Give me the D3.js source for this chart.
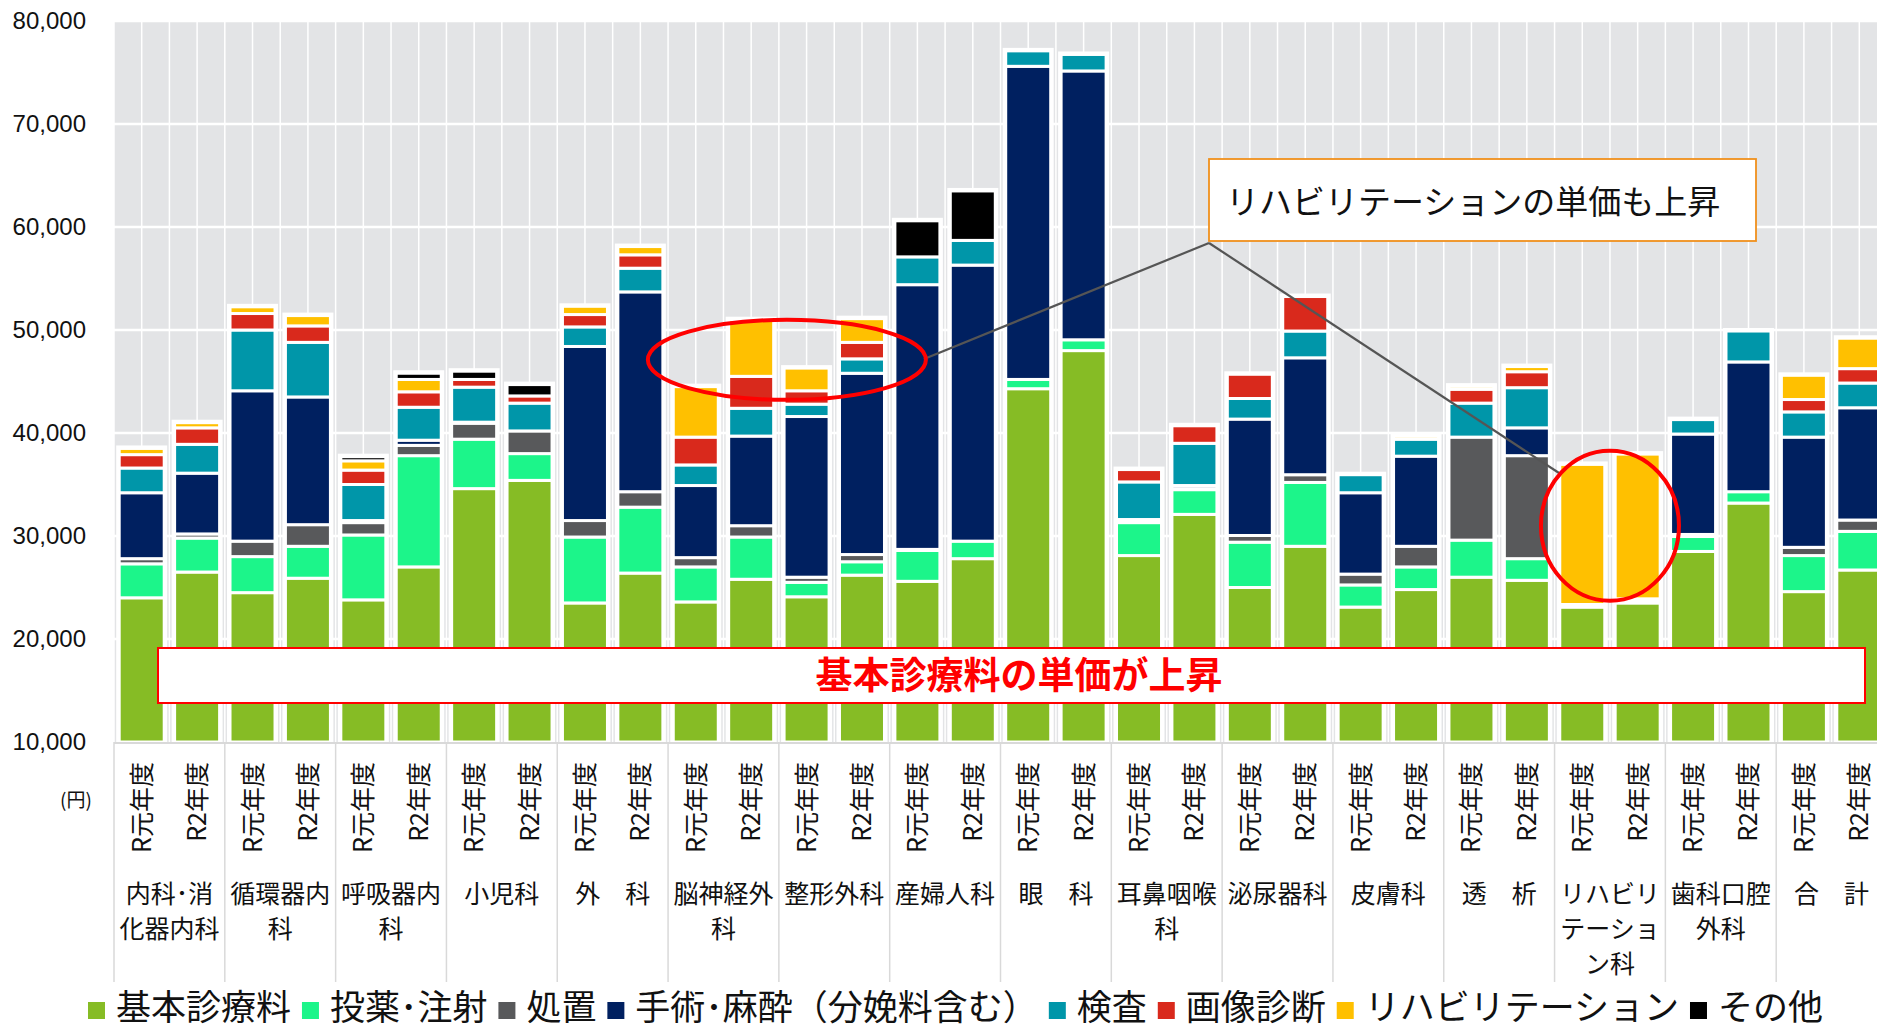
<!DOCTYPE html>
<html>
<head>
<meta charset="utf-8">
<script src="https://cdn.jsdelivr.net/npm/d3@7"></script>
<style>
  html, body { margin: 0; padding: 0; background: #fff; }
  svg { display: block; }
</style>
</head>
<body>
<script>
// ---- data (円, 1件あたり) ----
const groups = ['内科･消化器内科', '循環器内科', '呼吸器内科', '小児科', '外科', '脳神経外科', '整形外科', '産婦人科',
                '眼科', '耳鼻咽喉科', '泌尿器科', '皮膚科', '透析', 'リハビリテーション科', '歯科口腔外科', '合計'];
const groupLabels = [['内科･消', '化器内科'], ['循環器内', '科'], ['呼吸器内', '科'], ['小児科'], ['外　科'],
                     ['脳神経外', '科'], ['整形外科'], ['産婦人科'], ['眼　科'], ['耳鼻咽喉', '科'], ['泌尿器科'],
                     ['皮膚科'], ['透　析'], ['リハビリ', 'テーショ', 'ン科'], ['歯科口腔', '外科'], ['合　計']];
const years = ['R元年度', 'R2年度'];
const series = ['基本診療料', '投薬･注射', '処置', '手術･麻酔（分娩料含む）', '検査', '画像診断', 'リハビリテーション', 'その他'];
const colors = ['#86bc25', '#1cf58a', '#58595b', '#002060', '#0096a9', '#d9291c', '#ffc000', '#000000'];

// one value per bar: R元, R2 for each group in order
const kihon   = [24000, 26500, 24500, 25900, 23800, 27000, 34600, 35400, 23500, 26400, 23600, 25800, 24100, 26200, 25600, 27800,
                 44300, 48000, 28100, 32100, 25000, 29000, 23100, 24800, 26000, 25700, 23100, 23500, 28500, 33200, 24600, 26700];
const touyaku = [3300, 3300, 3500, 3100, 6300, 10800, 4800, 2600, 6400, 6400, 3400, 4100, 1400, 1300, 3000, 1700,
                 900, 1050, 3200, 2400, 4400, 6200, 2150, 2200, 3600, 2100, 150, 200, 1450, 1100, 3500, 3750];
const shochi  = [500, 400, 1500, 2100, 1200, 1000, 1550, 2200, 1600, 1500, 900, 1100, 500, 700, 100, 0,
                 0, 0, 100, 100, 650, 750, 1050, 2000, 10000, 10000, 100, 200, 200, 0, 800, 1100];
const shujutsu= [6400, 5900, 14600, 12400, 200, 500, 100, 0, 16900, 19400, 7000, 8700, 15600, 17600, 25700, 26800,
                 30400, 26100, 200, 300, 11300, 11350, 7900, 8750, 0, 2700, 0, 0, 9750, 12600, 10700, 10900];
const kensa   = [2400, 2800, 5900, 5300, 3500, 3200, 3400, 2700, 1900, 2300, 2000, 2700, 1200, 1400, 2700, 2400,
                 1500, 1600, 3650, 4100, 2000, 2600, 1750, 1650, 3300, 3900, 0, 0, 1400, 3000, 2450, 2400];
const gazou   = [1300, 1600, 1600, 1600, 1400, 1500, 750, 700, 1200, 1300, 2700, 3100, 1300, 1600, 0, 0,
                 0, 0, 1200, 1700, 2350, 3350, 0, 0, 1350, 1550, 0, 0, 0, 0, 1200, 1400];
const riha    = [600, 500, 650, 1000, 900, 1200, 0, 0, 800, 800, 4900, 5500, 2200, 2300, 0, 0,
                 0, 0, 0, 0, 0, 0, 0, 300, 300, 500, 13600, 14050, 0, 0, 2350, 2950];
const sonota  = [0, 0, 0, 0, 400, 600, 800, 1100, 0, 0, 0, 0, 0, 0, 3500, 4800,
                 0, 0, 0, 0, 0, 0, 0, 0, 0, 0, 0, 0, 0, 0, 0, 0];
const seriesValues = [kihon, touyaku, shochi, shujutsu, kensa, gazou, riha, sonota];
const yTicks = [10000, 20000, 30000, 40000, 50000, 60000, 70000, 80000];

// ---- layout ----
const W = 1877, H = 1030;
const plot = {left: 114, right: 1887, top: 21, bottom: 742};
const barW = 45;
const jp = '"Noto Sans CJK JP", "Noto Sans", sans-serif';

const rows = kihon.map((v, i) => {
  const r = {group: groups[Math.floor(i / 2)], year: years[i % 2]};
  series.forEach((s, k) => r[s] = seriesValues[k][i]);
  r.total = d3.sum(series, s => r[s]);
  return r;
});
const stacked = d3.stack().keys(series)(rows);

const x0 = d3.scaleBand().domain(groups).range([plot.left, plot.right]);
const x1 = d3.scaleBand().domain(years).range([0, x0.bandwidth()]);
const y = d3.scaleLinear().domain([10000, 80000]).range([plot.bottom, plot.top]);
const barX = d => x0(d.group) + x1(d.year) + (x1.bandwidth() - barW) / 2;
const color = d3.scaleOrdinal().domain(series).range(colors);

const svg = d3.select('body').append('svg')
  .attr('width', W).attr('height', H)
  .style('font-family', jp);

svg.append('rect')
  .attr('x', plot.left).attr('y', plot.top)
  .attr('width', plot.right - plot.left).attr('height', plot.bottom - plot.top)
  .attr('fill', '#e3e4e6');

// vertical grid, four per department
const vLines = [];
groups.forEach(g => { for (let k = 0; k < 4; k++) vLines.push(x0(g) + k * x0.bandwidth() / 4); });
svg.append('g').selectAll('line').data(vLines).join('line')
  .attr('x1', d => d).attr('x2', d => d)
  .attr('y1', plot.top).attr('y2', plot.bottom)
  .attr('stroke', '#fff').attr('stroke-width', 1.5);

svg.append('g').selectAll('line').data(yTicks.slice(1)).join('line')
  .attr('x1', plot.left).attr('x2', plot.right)
  .attr('y1', d => y(d)).attr('y2', d => y(d))
  .attr('stroke', '#fff').attr('stroke-width', 2.5);

// white backing behind every bar
svg.append('g').selectAll('rect').data(rows).join('rect')
  .attr('x', d => barX(d) - 3)
  .attr('y', d => y(d.total) - 3)
  .attr('width', barW + 6)
  .attr('height', d => y(10000) - y(d.total) + 3)
  .attr('fill', '#fff');

svg.append('g').selectAll('g').data(stacked).join('g')
  .attr('fill', d => color(d.key))
  .selectAll('rect')
  .data(d => d.filter(p => p[1] - p[0] > 0))
  .join('rect')
  .attr('x', d => barX(d.data))
  .attr('y', d => y(d[1]))
  .attr('width', barW)
  .attr('height', d => y(Math.max(d[0], 10000)) - y(d[1]))
  .attr('stroke', '#fff')
  .attr('stroke-width', 3);

// y axis
const yAxis = svg.append('g')
  .attr('transform', `translate(${plot.left},0)`)
  .call(d3.axisLeft(y).tickValues(yTicks).tickFormat(d3.format(',')).tickSize(0).tickPadding(28));
yAxis.select('.domain').remove();
yAxis.selectAll('text')
  .attr('font-family', '"Liberation Sans", Arial, sans-serif')
  .attr('font-size', 24).attr('fill', '#111');

svg.append('text')
  .attr('x', 76).attr('y', 807)
  .attr('text-anchor', 'middle')
  .attr('font-size', 19).attr('fill', '#111')
  .text('(円)');

// category area
svg.append('line')
  .attr('x1', plot.left).attr('x2', plot.right)
  .attr('y1', plot.bottom + 1).attr('y2', plot.bottom + 1)
  .attr('stroke', '#d9d9d9').attr('stroke-width', 2);
svg.append('g').selectAll('line').data(groups.map(g => x0(g)).concat([plot.right])).join('line')
  .attr('x1', d => d).attr('x2', d => d)
  .attr('y1', plot.bottom).attr('y2', 982)
  .attr('stroke', '#d9d9d9').attr('stroke-width', 1.5);

svg.append('g').selectAll('text').data(rows).join('text')
  .attr('transform', d => `translate(${barX(d) + barW / 2},762) rotate(-90)`)
  .attr('text-anchor', 'end')
  .attr('dy', '0.36em')
  .attr('font-size', 25).attr('fill', '#111')
  .text(d => d.year);

const gl = svg.append('g').selectAll('text').data(groups).join('text')
  .attr('text-anchor', 'middle')
  .attr('font-size', 25).attr('fill', '#111');
gl.selectAll('tspan').data((g, i) => groupLabels[i]).join('tspan')
  .attr('x', function() { const g = d3.select(this.parentNode).datum(); return x0(g) + x0.bandwidth() / 2; })
  .attr('y', (d, i) => 903 + i * 35)
  .text(d => d);

// annotations
svg.append('line').attr('x1', 1209).attr('y1', 243).attr('x2', 924).attr('y2', 359)
  .attr('stroke', '#555').attr('stroke-width', 2.2);
svg.append('line').attr('x1', 1209).attr('y1', 243).attr('x2', 1559).attr('y2', 473)
  .attr('stroke', '#555').attr('stroke-width', 2.2);

svg.append('ellipse')
  .attr('cx', x0('整形外科') + 8).attr('cy', y(47100))
  .attr('rx', 139).attr('ry', 40)
  .attr('fill', 'none').attr('stroke', '#ff0000').attr('stroke-width', 4);
svg.append('ellipse')
  .attr('cx', x0('リハビリテーション科') + x0.bandwidth() / 2).attr('cy', y(31000))
  .attr('rx', 69).attr('ry', 75)
  .attr('fill', 'none').attr('stroke', '#ff0000').attr('stroke-width', 4);

svg.append('rect')
  .attr('x', 1209).attr('y', 159).attr('width', 547).attr('height', 82)
  .attr('fill', '#fff').attr('stroke', '#f0901c').attr('stroke-width', 1.8);
svg.append('text')
  .attr('x', 1226).attr('y', 214)
  .attr('font-size', 33).attr('fill', '#111')
  .text('リハビリテーションの単価も上昇');

svg.append('rect')
  .attr('x', 158).attr('y', 648).attr('width', 1707).attr('height', 55)
  .attr('fill', '#fff').attr('stroke', '#ff0000').attr('stroke-width', 2);
svg.append('text')
  .attr('x', 1019).attr('y', 689)
  .attr('text-anchor', 'middle')
  .attr('font-size', 37).attr('font-weight', 'bold').attr('fill', '#ff0000')
  .text('基本診療料の単価が上昇');

// legend, spread between the reference ends
const legend = svg.append('g');
const items = series.map((s, i) => {
  const g = legend.append('g');
  g.append('rect').attr('width', 17).attr('height', 17).attr('y', 1002).attr('fill', colors[i]);
  const t = g.append('text').attr('x', 28).attr('y', 1020)
    .attr('font-size', 35).attr('fill', '#111').text(s);
  return {g: g, w: 28 + t.node().getComputedTextLength()};
});
const legendStart = 88, legendEnd = 1823;
const gap = (legendEnd - legendStart - d3.sum(items, d => d.w)) / (items.length - 1);
let lx = legendStart;
items.forEach(d => { d.g.attr('transform', `translate(${lx},0)`); lx += d.w + gap; });
</script>
</body>
</html>
